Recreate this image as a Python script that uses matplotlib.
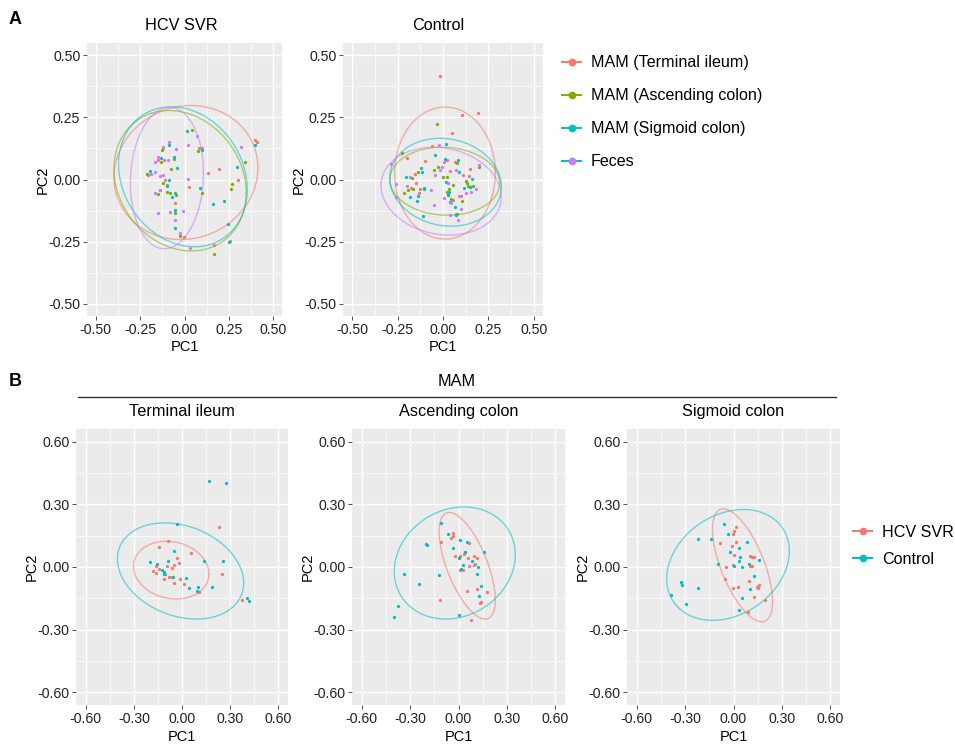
import numpy as np
import matplotlib
matplotlib.use("Agg")
import matplotlib.pyplot as plt
from matplotlib.lines import Line2D

plt.rcParams["font.family"] = ["Liberation Sans", "DejaVu Sans"]

W, H = 955, 744

RED, GREEN, CYAN, PURPLE = "#F8766D", "#7CAE00", "#00BFC4", "#C77CFF"

labels_a = ["MAM (Terminal ileum)", "MAM (Ascending colon)", "MAM (Sigmoid colon)", "Feces"]
labels_b = ["HCV SVR", "Control"]

# ---- panel A: HCV SVR ----
svr_ti_x = [0.40, 0.41, -0.12, 0.079, 0.10, -0.117, -0.147, 0.197, 0.133, -0.207, -0.111, 0.30, 0.028,
            -0.10, -0.141, -0.053, -0.004, 0.165, 0.258]
svr_ti_y = [0.158, 0.153, 0.128, 0.128, 0.128, 0.08, 0.08, 0.043, 0.027, 0.017, -0.003, 0.0, -0.03,
            -0.024, -0.044, -0.094, -0.23, -0.262, -0.248]
svr_ac_x = [0.043, -0.128, -0.13, -0.06, -0.077, 0.075, 0.342, -0.21, -0.12, -0.10, -0.079, -0.049,
            -0.148, 0.098, 0.27, 0.265, -0.053, -0.023, 0.164]
svr_ac_y = [0.20, 0.118, 0.071, 0.083, 0.044, 0.114, 0.072, 0.024, -0.013, -0.05, -0.056, -0.063,
            -0.058, -0.056, -0.019, -0.04, -0.136, -0.228, -0.30]
svr_sc_x = [0.015, -0.09, -0.13, -0.06, -0.043, -0.195, 0.098, 0.40, 0.295, -0.088, -0.053, -0.068,
            0.09, 0.16, 0.222, -0.055, -0.053, 0.246, 0.25, -0.098]
svr_sc_y = [0.195, 0.137, 0.085, 0.09, 0.047, 0.034, 0.118, 0.141, 0.05, -0.003, -0.056, -0.072,
            -0.035, -0.097, -0.087, -0.121, -0.195, -0.181, -0.251, -0.027]
svr_fe_x = [0.068, -0.09, -0.122, -0.049, 0.318, -0.149, -0.092, -0.165, -0.122, -0.188, -0.169,
            -0.141, 0.017, -0.139, -0.167, -0.148, -0.083, -0.011, -0.051, -0.028, 0.03, 0.017]
svr_fe_y = [0.174, 0.15, 0.132, 0.121, 0.132, 0.091, 0.08, 0.07, 0.02, 0.023, 0.031, 0.013, 0.003,
            -0.043, -0.056, -0.134, -0.13, -0.125, -0.164, -0.217, -0.275, 0.137]

# ---- panel A: Control ----
ctl_ti_x = [-0.015, 0.195, 0.102, 0.049, -0.062, -0.199, -0.097, 0.022, 0.066, 0.148, 0.038, 0.108,
            0.144, -0.153, -0.15, -0.177, -0.128, -0.133, 0.097, 0.057, 0.073]
ctl_ti_y = [0.418, 0.267, 0.259, 0.186, 0.135, 0.085, 0.075, 0.078, 0.071, 0.044, 0.035, 0.018,
            0.016, 0.022, -0.013, -0.036, -0.04, -0.054, -0.066, -0.084, -0.137]
ctl_ac_x = [-0.226, -0.031, -0.026, -0.047, -0.14, -0.172, 0.077, 0.0, 0.02, 0.20, 0.055, 0.124, 0.133,
            0.139, 0.151, 0.164, -0.217, -0.192, -0.164, -0.102, 0.02, 0.033, 0.044, 0.106, 0.077, 0.027]
ctl_ac_y = [0.106, 0.222, 0.049, 0.04, 0.031, 0.005, 0.067, 0.011, 0.011, 0.051, -0.022, -0.005, -0.016,
            -0.027, -0.03, -0.027, -0.053, -0.043, -0.04, -0.034, -0.05, -0.04, -0.077, -0.086, -0.137, -0.063]
ctl_sc_x = [0.015, -0.044, 0.013, 0.08, -0.122, -0.113, -0.201, -0.182, -0.139, -0.141, -0.102, 0.016,
            0.088, 0.162, 0.115, 0.15, 0.026, 0.036, 0.064, 0.073, -0.109, 0.031]
ctl_sc_y = [0.142, 0.097, 0.081, 0.078, 0.047, 0.031, 0.011, -0.07, -0.065, -0.086, -0.04, -0.012,
            0.031, 0.004, -0.036, -0.032, -0.062, -0.09, -0.111, -0.142, -0.148, -0.049]
ctl_fe_x = [-0.285, -0.257, -0.259, -0.197, -0.182, -0.02, 0.005, -0.004, -0.018, 0.069, 0.029, -0.064,
            0.007, 0.046, -0.051, 0.086, 0.124, 0.155, 0.182, 0.20, 0.097, 0.036, 0.082, -0.042]
ctl_fe_y = [0.062, -0.019, -0.07, -0.026, 0.009, 0.139, 0.07, 0.049, 0.038, 0.04, -0.016, -0.043,
            -0.074, -0.094, -0.102, -0.066, -0.054, -0.049, -0.04, 0.058, -0.12, -0.143, -0.162, 0.019]

# ---- panel B: Terminal ileum ----
ti_svr_x = [0.232, -0.087, -0.141, 0.058, -0.029, -0.019, -0.052, -0.095, -0.164, -0.062, -0.143, -0.18,
            -0.162, -0.106, 0.247, -0.079, -0.064, -0.11, -0.01, -0.048, 0.015, 0.104, 0.373]
ti_svr_y = [0.191, 0.123, 0.097, 0.067, 0.045, 0.019, 0.008, 0.003, 0.003, -0.006, -0.01, -0.021,
            -0.029, -0.033, -0.032, -0.048, -0.049, -0.056, -0.057, -0.078, -0.081, -0.121, -0.156]
ti_ctl_x = [0.168, 0.274, -0.033, -0.05, -0.201, -0.158, -0.089, 0.139, 0.257, -0.124, -0.114, -0.11,
            -0.056, 0.027, 0.10, 0.187, 0.044, 0.093, 0.405, 0.415]
ti_ctl_y = [0.411, 0.403, 0.206, 0.077, 0.026, 0.016, 0.029, 0.029, 0.027, -0.013, -0.026, -0.035,
            -0.046, -0.051, -0.097, -0.096, -0.102, -0.113, -0.15, -0.163]

# ---- panel B: Ascending colon ----
ac_svr_x = [-0.108, -0.035, -0.037, -0.048, 0.062, -0.021, 0.012, 0.031, 0.043, 0.058, 0.099, 0.116,
            0.066, 0.095, 0.104, 0.012, 0.027, 0.054, 0.112, 0.178, 0.133, 0.141, -0.114, 0.077]
ac_svr_y = [0.121, 0.163, 0.15, 0.139, 0.116, 0.054, 0.054, 0.064, 0.07, 0.043, 0.054, 0.041,
            0.006, 0.011, 0.016, -0.013, -0.013, -0.116, -0.105, -0.121, -0.171, -0.166, -0.156, -0.252]
ac_ctl_x = [-0.108, -0.062, 0.008, 0.054, -0.037, 0.041, -0.203, -0.197, 0.161, 0.004, 0.083, 0.025,
            0.12, 0.017, 0.116, -0.335, -0.12, -0.246, 0.141, 0.124, -0.373, -0.398, 0.004]
ac_ctl_y = [0.212, 0.159, 0.128, 0.121, 0.089, 0.072, 0.112, 0.107, 0.072, 0.045, 0.027, 0.008,
            0.002, -0.01, -0.033, -0.032, -0.038, -0.08, -0.091, -0.14, -0.188, -0.238, -0.231]

# ---- panel B: Sigmoid colon ----
sc_svr_x = [0.017, 0.0, -0.006, -0.081, 0.014, -0.012, 0.0, 0.104, 0.112, 0.124, 0.104, 0.112,
            -0.004, -0.048, -0.054, 0.093, -0.002, 0.025, 0.145, 0.159, 0.149, 0.128, 0.197, 0.089]
sc_svr_y = [0.19, 0.172, 0.158, 0.115, 0.12, 0.099, 0.059, 0.051, 0.048, 0.048, 0.003, 0.006,
            0.011, -0.002, -0.057, -0.069, -0.1, -0.096, -0.097, -0.088, -0.102, -0.144, -0.156, -0.217]
sc_ctl_x = [-0.056, -0.033, -0.222, -0.141, 0.035, 0.083, -0.021, 0.041, 0.033, 0.159, -0.099, 0.095,
            0.0, 0.05, 0.128, -0.325, -0.321, -0.219, 0.104, -0.387, -0.294, 0.05, 0.037]
sc_ctl_y = [0.204, 0.159, 0.136, 0.134, 0.091, 0.118, 0.073, 0.049, 0.03, 0.032, 0.014, 0.016,
            0.003, 0.002, -0.041, -0.073, -0.085, -0.099, -0.105, -0.136, -0.177, -0.148, -0.204]

# ellipses: centre x, centre y, half width, half height, y-offset of rightmost point (fraction of half height)
ell_svr = [(0.008, 0.028, 0.406, 0.27, 0.07), (-0.025, -0.005, 0.373, 0.283, -0.17),
           (-0.009, 0.011, 0.363, 0.282, -0.18), (-0.099, 0.006, 0.206, 0.285, 0.07)]
ell_ctl = [(0.011, 0.026, 0.277, 0.266, 0.0), (0.01, -0.007, 0.302, 0.137, -0.05),
           (0.014, -0.011, 0.307, 0.177, -0.1), (-0.01, -0.047, 0.331, 0.177, -0.13)]
ell_ti = [(-0.067, -0.015, 0.235, 0.138, -0.13), (-0.009, -0.019, 0.393, 0.23, -0.25)]
ell_ac = [(0.054, 0.006, 0.174, 0.255, -0.64), (-0.023, 0.019, 0.375, 0.268, 0.15)]
ell_sc = [(0.056, 0.008, 0.186, 0.27, -0.64), (-0.034, 0.01, 0.38, 0.265, 0.25)]

ticks_a = [-0.50, -0.25, 0.00, 0.25, 0.50]
ticks_b = [-0.60, -0.30, 0.00, 0.30, 0.60]


def px_axes(fig, x0, y0, x1, y1):
    return fig.add_axes([x0 / W, 1 - y1 / H, (x1 - x0) / W, (y1 - y0) / H])


def style(ax, ticks):
    lim = ticks[-1] * 1.1
    step = ticks[1] - ticks[0]
    ax.set_facecolor("#EBEBEB")
    ax.set_xlim(-lim, lim)
    ax.set_ylim(-lim, lim)
    ax.set_xticks(ticks)
    ax.set_yticks(ticks)
    minor = [t + step / 2 for t in ticks[:-1]]
    ax.set_xticks(minor, minor=True)
    ax.set_yticks(minor, minor=True)
    ax.set_xticklabels([f"{t:.2f}" for t in ticks])
    ax.set_yticklabels([f"{t:.2f}" for t in ticks])
    ax.grid(which="major", color="white", lw=1.0)
    ax.grid(which="minor", color="white", lw=0.5)
    ax.set_axisbelow(True)
    for s in ax.spines.values():
        s.set_visible(False)
    ax.tick_params(which="major", length=2.8, width=0.6, color="#333333",
                   labelsize=10.2, labelcolor="#222222", pad=2)
    ax.tick_params(which="minor", length=0)


def ellipse(ax, p, color):
    cx, cy, rx, ry, s = p
    t = np.linspace(0, 2 * np.pi, 240)
    ax.plot(cx + rx * np.cos(t), cy + ry * np.sin(t + np.arcsin(s)),
            color=color, lw=1.0, alpha=0.55, zorder=2)


def panel(ax, groups, ells, colors, ticks):
    style(ax, ticks)
    for (gx, gy), c in zip(groups, colors):
        ax.scatter(gx, gy, s=5.5, color=c, linewidths=0, zorder=3)
    for e, c in zip(ells, colors):
        ellipse(ax, e, c)


fig = plt.figure(figsize=(W / 100, H / 100), dpi=100)
cols_a = [RED, GREEN, CYAN, PURPLE]
cols_b = [RED, CYAN]

ax1 = px_axes(fig, 87, 43, 282, 316)
panel(ax1, [(svr_ti_x, svr_ti_y), (svr_ac_x, svr_ac_y), (svr_sc_x, svr_sc_y), (svr_fe_x, svr_fe_y)],
      ell_svr, cols_a, ticks_a)
ax2 = px_axes(fig, 343, 43, 543, 316)
panel(ax2, [(ctl_ti_x, ctl_ti_y), (ctl_ac_x, ctl_ac_y), (ctl_sc_x, ctl_sc_y), (ctl_fe_x, ctl_fe_y)],
      ell_ctl, cols_a, ticks_a)

ax3 = px_axes(fig, 76, 429, 288, 705)
panel(ax3, [(ti_svr_x, ti_svr_y), (ti_ctl_x, ti_ctl_y)], ell_ti, cols_b, ticks_b)
ax4 = px_axes(fig, 352, 429, 565, 705)
panel(ax4, [(ac_svr_x, ac_svr_y), (ac_ctl_x, ac_ctl_y)], ell_ac, cols_b, ticks_b)
ax5 = px_axes(fig, 627, 429, 840, 705)
panel(ax5, [(sc_svr_x, sc_svr_y), (sc_ctl_x, sc_ctl_y)], ell_sc, cols_b, ticks_b)


def ftext(x, y, s, **kw):
    fig.text(x / W, 1 - y / H, s, ha="center", va="center", **kw)


ftext(15, 19, "A", fontsize=13, fontweight="bold")
ftext(15, 381, "B", fontsize=13, fontweight="bold")
ftext(181, 25, "HCV SVR", fontsize=11.7)
ftext(438, 25, "Control", fontsize=11.7)
ftext(457, 381, "MAM", fontsize=11.7)
fig.add_artist(Line2D([78 / W, 836 / W], [1 - 397 / H, 1 - 397 / H], color="#333333", lw=1.0))

for a, name in zip([ax3, ax4, ax5], ["Terminal ileum", "Ascending colon", "Sigmoid colon"]):
    b = a.get_position()
    fig.text((b.x0 + b.x1) / 2, 1 - 412 / H, name, ha="center", va="center", fontsize=11.7)

for a, ylab in [(ax1, 347), (ax2, 347), (ax3, 737), (ax4, 737), (ax5, 737)]:
    b = a.get_position()
    fig.text((b.x0 + b.x1) / 2, 1 - ylab / H, "PC1", ha="center", va="center", fontsize=10.5)
    fig.text(b.x0 - 44 / W, (b.y0 + b.y1) / 2, "PC2", ha="center", va="center",
             rotation=90, fontsize=10.5)

handles_a = [Line2D([], [], color=c, marker="o", markersize=4.5, lw=1.4) for c in cols_a[:3]]
handles_a.append(Line2D([], [], color=CYAN, marker="o", markersize=4.5, lw=1.4,
                        markerfacecolor=PURPLE, markeredgecolor=PURPLE))
fig.legend(handles_a, labels_a, loc="upper left", bbox_to_anchor=(562 / W, 1 - 55.5 / H),
           frameon=False, fontsize=11.6, handlelength=1.2, handletextpad=0.6,
           labelspacing=1.11, borderpad=0, borderaxespad=0)

handles_b = [Line2D([], [], color=c, marker="o", markersize=4.5, lw=1.4) for c in cols_b]
fig.legend(handles_b, labels_b, loc="upper left", bbox_to_anchor=(853 / W, 1 - 525 / H),
           frameon=False, fontsize=11.6, handlelength=1.2, handletextpad=0.6,
           labelspacing=0.75, borderpad=0, borderaxespad=0)

fig.savefig("out.png", dpi=100)
